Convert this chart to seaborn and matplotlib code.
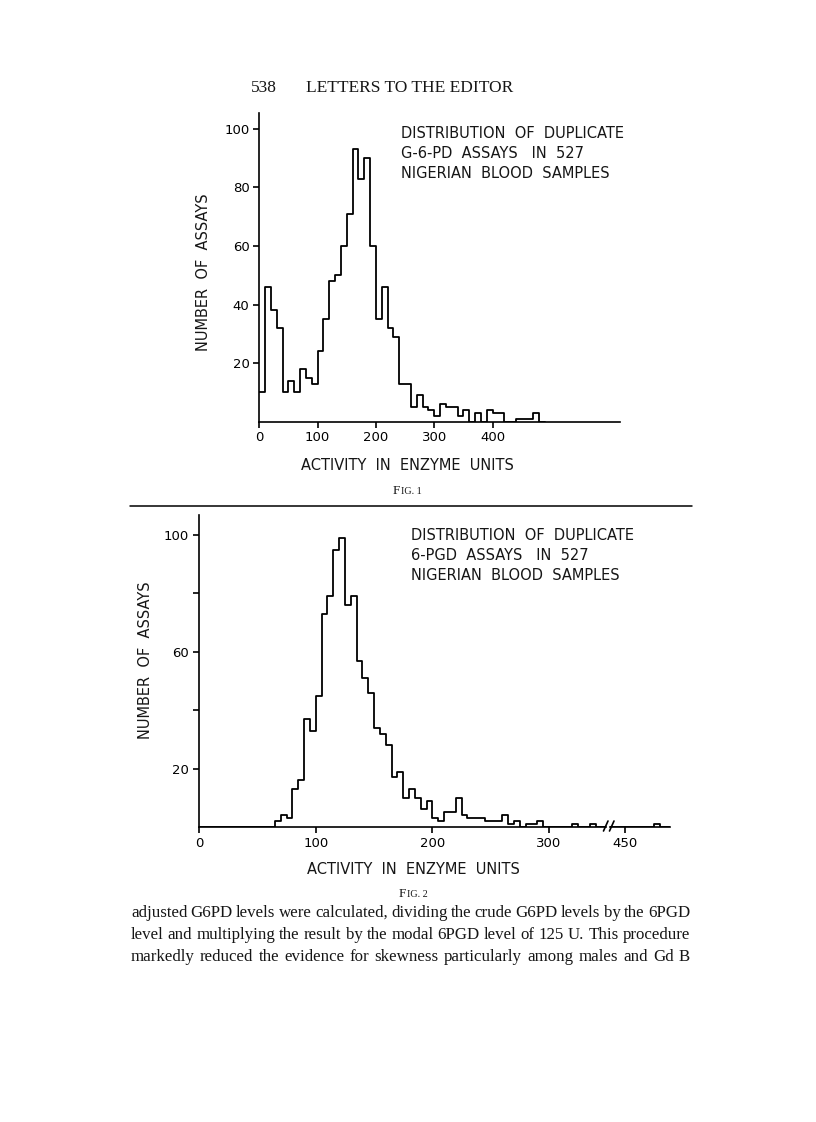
import matplotlib
matplotlib.use("Agg")
import matplotlib.pyplot as plt
from matplotlib.lines import Line2D
import numpy as np
import pandas as pd
import seaborn as sns

# ---------------- data ----------------
# Fig. 1 : G-6-PD, 10-unit bins starting at 0
g6pd_bin_width = 10
g6pd_counts = [10, 46, 38, 32, 10, 14, 10, 18, 15, 13,
               24, 35, 48, 50, 60, 71, 93, 83, 90, 60,
               35, 46, 32, 29, 13, 13, 5, 9, 5, 4,
               2, 6, 5, 5, 2, 4, 0, 3, 0, 4,
               3, 3, 0, 0, 1, 1, 1, 3, 0]

# Fig. 2 : 6-PGD, 5-unit bins starting at 0
pgd_bin_width = 5
pgd_counts = [0, 0, 0, 0, 0, 0, 0, 0, 0, 0,          # 0-50
              0, 0, 0, 2, 4, 3, 13, 16, 37, 33,       # 50-100
              45, 73, 79, 95, 99, 76, 79, 57, 51, 46, # 100-150
              34, 32, 28, 17, 19, 10, 13, 10, 6, 9,   # 150-200
              3, 2, 5, 5, 10, 4, 3, 3, 3, 2,          # 200-250
              2, 2, 4, 1, 2, 0, 1, 1, 2, 0,           # 250-300
              0, 0, 0, 0, 1, 0, 0, 1, 0, 0,           # 300-350
              0, 0, 0, 0, 0, 0, 0, 0, 0, 0,           # 350-400
              0, 0, 0, 0, 0, 0, 0, 0, 0, 0,           # 400-450
              0, 0, 0, 0, 0, 1, 0, 0]                 # 450-490

g6pd_xticks = [0, 100, 200, 300, 400]
g6pd_yticks = [20, 40, 60, 80, 100]
pgd_xticks_left = [0, 100, 200, 300]
pgd_xticks_right = [450]
pgd_yticks = [20, 40, 60, 80, 100]
pgd_yticklabels = ["20", "", "60", "", "100"]

title1 = ["DISTRIBUTION  OF  DUPLICATE", "G-6-PD  ASSAYS   IN  527", "NIGERIAN  BLOOD  SAMPLES"]
title2 = ["DISTRIBUTION  OF  DUPLICATE", "6-PGD  ASSAYS   IN  527", "NIGERIAN  BLOOD  SAMPLES"]
ylabel = "NUMBER  OF  ASSAYS"
xlabel = "ACTIVITY  IN  ENZYME  UNITS"
body_lines = [
    "adjusted G6PD levels were calculated, dividing the crude G6PD levels by the 6PGD",
    "level and multiplying the result by the modal 6PGD level of 125 U. This procedure",
    "markedly reduced the evidence for skewness particularly among males and Gd B",
]

# ---------------- style ----------------
sns.set_style("ticks")
plt.rcParams["font.family"] = ["DejaVu Sans"]
plt.rcParams["axes.linewidth"] = 1.2
plt.rcParams["xtick.major.width"] = 1.2
plt.rcParams["ytick.major.width"] = 1.2

W, H = 816, 1122
fig = plt.figure(figsize=(W / 100, H / 100), dpi=100)
fig.patch.set_facecolor("white")
SANS = 10.5
SERIF = "Liberation Serif"
INK = "#161616"


def px_axes(x0, y0, x1, y1):
    return fig.add_axes([x0 / W, 1 - y1 / H, (x1 - x0) / W, (y1 - y0) / H])


def ftext(x, y, s, **kw):
    kw.setdefault("color", INK)
    return fig.text(x / W, 1 - y / H, s, **kw)


def hist_frame(counts, width):
    counts = [float(c) for c in counts]
    centers = [width * i + width / 2 for i in range(len(counts))]
    return pd.DataFrame({"activity": centers, "n": counts}), (0, width * len(counts))


def draw_hist(ax, df, width, brange):
    sns.histplot(data=df, x="activity", weights="n", binwidth=width, binrange=brange,
                 element="step", fill=False, color="black", linewidth=1.3, ax=ax)


def style_axes(ax, show_left=True):
    sns.despine(ax=ax, top=True, right=True, left=not show_left)
    ax.set_facecolor("white")
    ax.grid(False)
    ax.tick_params(axis="both", direction="out", length=4.5, width=1.2,
                   colors="black", labelsize=9.5, pad=2.5)
    ax.set_xlabel("")
    ax.set_ylabel("")
    for sp in ax.spines.values():
        sp.set_color("black")


# ---------------- Fig. 1 ----------------
df1, range1 = hist_frame(g6pd_counts, g6pd_bin_width)
ax1 = px_axes(259.3, 113, 620, 421.7)
draw_hist(ax1, df1, g6pd_bin_width, range1)
ax1.set_xlim(0, (620 - 259.3) / 0.583)
ax1.set_ylim(0, (421.7 - 113) / 2.93)
ax1.set_xticks(g6pd_xticks)
ax1.set_yticks(g6pd_yticks)
style_axes(ax1)

for i, line in enumerate(title1):
    ftext(401, 133 + 20 * i, line, fontsize=SANS, ha="left", va="center")
ftext(204, 272, ylabel, fontsize=SANS, rotation=90, ha="center", va="center")
ftext(407, 466, xlabel, fontsize=SANS, ha="center", va="center")

# ---------------- rule ----------------
fig.add_artist(Line2D([130 / W, 692 / W], [1 - 506 / H, 1 - 506 / H],
                      color="black", linewidth=1.1))

# ---------------- Fig. 2 (broken x axis) ----------------
df2, range2 = hist_frame(pgd_counts, pgd_bin_width)
sx2 = 1.167   # px per unit
sy2 = 2.92
ax2 = px_axes(199, 515, 606, 827)
draw_hist(ax2, df2, pgd_bin_width, range2)
ax2.set_xlim(0, (606 - 199) / sx2)
ax2.set_ylim(0, (827 - 515) / sy2)
ax2.set_xticks(pgd_xticks_left)
ax2.set_yticks(pgd_yticks)
ax2.set_yticklabels(pgd_yticklabels)
style_axes(ax2)

ax3 = px_axes(610, 515, 670, 827)
draw_hist(ax3, df2, pgd_bin_width, range2)
ax3.set_xlim(450 - (625 - 610) / sx2, 450 + (670 - 625) / sx2)
ax3.set_ylim(0, (827 - 515) / sy2)
ax3.set_xticks(pgd_xticks_right)
ax3.set_yticks([])
ax3.patch.set_alpha(0)
style_axes(ax3, show_left=False)

# break marks
for bx in (603.5, 609.5):
    fig.add_artist(Line2D([bx / W, (bx + 4.5) / W], [1 - 831 / H, 1 - 821 / H],
                          color="black", linewidth=1.2))

for i, line in enumerate(title2):
    ftext(411, 535 + 20 * i, line, fontsize=SANS, ha="left", va="center")
ftext(146, 660, ylabel, fontsize=SANS, rotation=90, ha="center", va="center")
ftext(413, 870, xlabel, fontsize=SANS, ha="center", va="center")

# ---------------- page header ----------------
ftext(251, 88, "538", fontsize=12.5, family=SERIF, ha="left", va="center")
ftext(410, 88, "LETTERS TO THE EDITOR", fontsize=12.5, family=SERIF,
      ha="center", va="center")

fig.canvas.draw()
renderer = fig.canvas.get_renderer()


# ---------------- small-caps figure captions ----------------
def small_caps(xc, y, big, rest):
    t1 = ftext(0, y, big, fontsize=9.5, family=SERIF, ha="left", va="baseline")
    t2 = ftext(0, y, rest, fontsize=7.3, family=SERIF, ha="left", va="baseline")
    w1 = t1.get_window_extent(renderer).width
    w2 = t2.get_window_extent(renderer).width
    x0 = xc - (w1 + w2) / 2
    t1.set_position((x0 / W, 1 - y / H))
    t2.set_position(((x0 + w1 + 0.3) / W, 1 - y / H))


small_caps(407, 494, "F", "IG. 1")
small_caps(413, 897, "F", "IG. 2")

# ---------------- justified body text ----------------
x_left, x_right = 131, 690
for line, y in zip(body_lines, (913, 935, 957)):
    words = line.split()
    texts = [ftext(0, y, w, fontsize=12.2, family=SERIF, ha="left", va="center")
             for w in words]
    widths = [t.get_window_extent(renderer).width for t in texts]
    gap = (x_right - x_left - sum(widths)) / (len(words) - 1)
    x = x_left
    for t, w in zip(texts, widths):
        t.set_position((x / W, 1 - y / H))
        x += w + gap

fig.savefig("out.png", dpi=100, facecolor="white")
